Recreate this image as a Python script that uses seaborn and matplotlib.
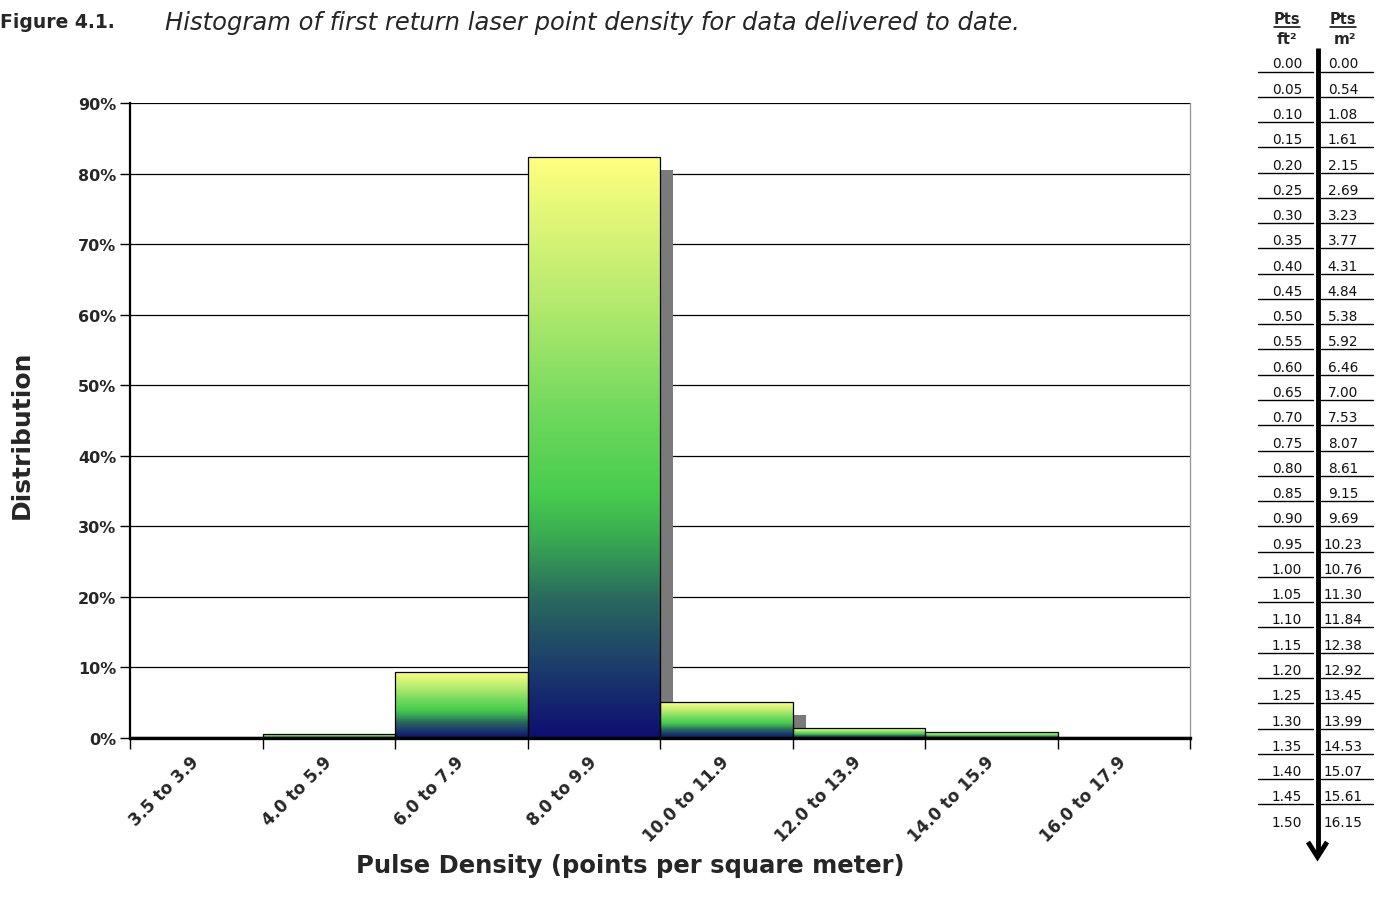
import numpy as np
import pandas as pd
import matplotlib
matplotlib.use("Agg")
import matplotlib.pyplot as plt
import seaborn as sns
from matplotlib.colors import LinearSegmentedColormap
from matplotlib.patches import Rectangle
from matplotlib.lines import Line2D
from matplotlib.transforms import offset_copy

# ---------------- data ----------------
categories = ["3.5 to 3.9", "4.0 to 5.9", "6.0 to 7.9", "8.0 to 9.9",
              "10.0 to 11.9", "12.0 to 13.9", "14.0 to 15.9", "16.0 to 17.9"]
distribution = [0.1, 0.55, 9.4, 82.3, 5.1, 1.4, 0.85, 0.1]
yticks = [0, 10, 20, 30, 40, 50, 60, 70, 80, 90]
pts_ft2 = ["0.00", "0.05", "0.10", "0.15", "0.20", "0.25", "0.30", "0.35", "0.40",
           "0.45", "0.50", "0.55", "0.60", "0.65", "0.70", "0.75", "0.80", "0.85",
           "0.90", "0.95", "1.00", "1.05", "1.10", "1.15", "1.20", "1.25", "1.30",
           "1.35", "1.40", "1.45", "1.50"]
pts_m2 = ["0.00", "0.54", "1.08", "1.61", "2.15", "2.69", "3.23", "3.77", "4.31",
          "4.84", "5.38", "5.92", "6.46", "7.00", "7.53", "8.07", "8.61", "9.15",
          "9.69", "10.23", "10.76", "11.30", "11.84", "12.38", "12.92", "13.45",
          "13.99", "14.53", "15.07", "15.61", "16.15"]

df = pd.DataFrame({"category": categories, "value": distribution})

W, H = 1380, 912
sns.set_theme(style="white")
plt.rcParams["font.family"] = ["DejaVu Sans"]

fig = plt.figure(figsize=(W / 100, H / 100), dpi=100)


def P(x, y):
    return x / W, 1 - y / H


ax_l, ax_r, ax_t, ax_b = 130, 1190, 104, 739
ax = fig.add_axes([ax_l / W, 1 - ax_b / H, (ax_r - ax_l) / W, (ax_b - ax_t) / H])

sns.barplot(data=df, x="category", y="value", ax=ax, width=1.0,
            color="white", edgecolor="black", linewidth=0.9, zorder=4)

cmap = LinearSegmentedColormap.from_list("grad", [
    (0.00, "#0E0E72"), (0.12, "#1B3C6C"), (0.24, "#2A6A5E"), (0.34, "#38A852"),
    (0.42, "#48CC4E"), (0.55, "#6CD85C"), (0.75, "#B4EA6E"), (1.00, "#FFFF80")])
grad = np.linspace(0, 1, 256).reshape(-1, 1)

shadow_tr = offset_copy(ax.transData, fig=fig, x=13, y=-13, units="dots")
for p in list(ax.patches):
    x0, y0, w, h = p.get_x(), p.get_y(), p.get_width(), p.get_height()
    p.set_facecolor("none")
    p.set_zorder(4)
    ax.add_patch(Rectangle((x0, y0), w, h, transform=shadow_tr,
                           facecolor="#7a7a7a", edgecolor="none", zorder=2))
    im = ax.imshow(grad, extent=[x0, x0 + w, y0, y0 + h], origin="lower",
                   aspect="auto", cmap=cmap, zorder=3, interpolation="bilinear")
    im.set_clip_path(p)

ax.set_xlim(-0.5, len(categories) - 0.5)
ax.set_ylim(0, 90)
ax.set_yticks(yticks)
ax.set_yticklabels([f"{v}%" for v in yticks], fontsize=11.5, fontweight="bold")
ax.yaxis.grid(True, color="black", linewidth=0.9, zorder=1)
ax.set_axisbelow(True)

ax.set_xticks(range(len(categories)))
ax.set_xticklabels(categories, rotation=45, ha="right", va="center", rotation_mode="anchor",
                   fontsize=12, fontweight="bold")
ax.set_xticks(np.arange(-0.5, len(categories), 1.0), minor=True)
ax.tick_params(axis="x", which="major", length=0, pad=15)
ax.tick_params(axis="x", which="minor", length=8, width=1, color="black", direction="out", bottom=True)
ax.tick_params(axis="y", which="major", length=7, width=1, color="black", direction="out", left=True, pad=3)

ax.spines["top"].set_visible(False)
ax.spines["right"].set_color("#9a9a9a")
ax.spines["right"].set_linewidth(1)
ax.spines["left"].set_color("black")
ax.spines["left"].set_linewidth(1.6)
ax.spines["bottom"].set_color("black")
ax.spines["bottom"].set_linewidth(2.4)
ax.spines["bottom"].set_zorder(6)

ax.set_xlabel("")
ax.set_ylabel("")
fig.text(*P(630, 866), "Pulse Density (points per square meter)", ha="center", va="center",
         fontsize=17.5, fontweight="bold")
fig.text(*P(22, 435), "Distribution", ha="center", va="center", rotation=90,
         fontsize=18, fontweight="bold")

# title
fig.text(*P(0, 22), "Figure 4.1.", ha="left", va="center", fontsize=13.5, fontweight="bold")
fig.text(*P(165, 23), "Histogram of first return laser point density for data delivered to date.",
         ha="left", va="center", fontsize=17.5, fontstyle="italic")

# conversion table
xl, xr = 1287, 1343
fig.text(*P(xl, 19), "Pts", ha="center", va="center", fontsize=10.5, fontweight="bold")
fig.text(*P(xr, 19), "Pts", ha="center", va="center", fontsize=10.5, fontweight="bold")
for xc, hw in ((xl, 13), (xr, 13)):
    fig.add_artist(Line2D([(xc - hw) / W, (xc + hw) / W], [1 - 27.5 / H] * 2,
                          color="black", lw=1.1))
fig.text(*P(xl, 39), "ft²", ha="center", va="center", fontsize=11, fontweight="bold")
fig.text(*P(xr + 2, 39), "m²", ha="center", va="center", fontsize=11, fontweight="bold")

row0, dy = 64.5, 25.27
for i, (a, b) in enumerate(zip(pts_ft2, pts_m2)):
    yc = row0 + i * dy
    fig.text(*P(xl, yc), a, ha="center", va="center", fontsize=9.8, color="#111111")
    fig.text(*P(xr, yc), b, ha="center", va="center", fontsize=9.8, color="#111111")
    if i < len(pts_ft2) - 1:
        yl = 1 - (yc + 8) / H
        fig.add_artist(Line2D([1258 / W, 1313 / W], [yl, yl], color="black", lw=1.0))
        fig.add_artist(Line2D([1321 / W, 1373 / W], [yl, yl], color="black", lw=1.0))

fig.add_artist(Line2D([1317.5 / W] * 2, [1 - 49 / H, 1 - 855 / H], color="black", lw=3.5,
                      solid_capstyle="butt"))
fig.add_artist(Line2D([1308 / W, 1317.5 / W, 1327 / W], [1 - 843 / H, 1 - 858 / H, 1 - 843 / H],
                      color="black", lw=3.5, solid_joinstyle="miter", solid_capstyle="butt"))

fig.savefig("out.png", dpi=100)
